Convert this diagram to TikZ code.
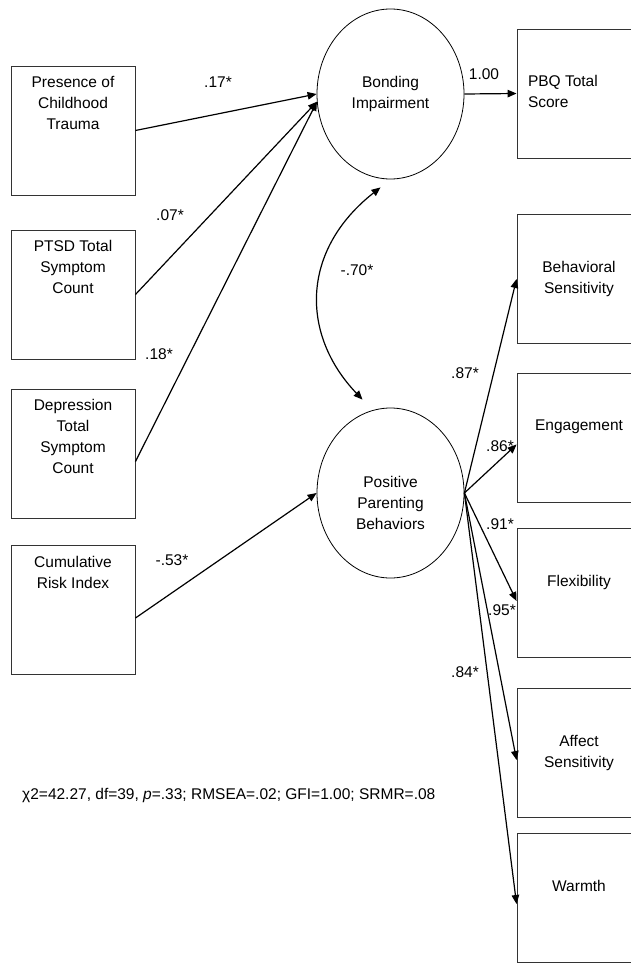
\documentclass[tikz,border=0pt]{standalone}
\usepackage{fontspec}
\setmainfont{Liberation Sans}
\usetikzlibrary{shapes.geometric}
\usetikzlibrary{arrows.meta}

\newcommand{\boxtext}[3]{\parbox[c][129pt][t]{124pt}{#1\rule{0pt}{#2}#3}}

\begin{document}
\begin{tikzpicture}[x=1pt,y=-1pt,font=\fontsize{15.5}{21}\selectfont,
  obs/.style={draw=black!80,line width=0.9pt,inner sep=0pt},
  latent/.style={ellipse,draw,line width=0.8pt,minimum width=147pt,minimum height=170pt,align=center},
  effect/.style={line width=1.2pt,-{Triangle[length=9pt,width=7.5pt]}},
  coef/.style={inner sep=1pt}]
\useasboundingbox (0,0) rectangle (631,963);
\node[obs] (trauma) at (73,130.5) {\boxtext{\centering}{21.7pt}{Presence of\\Childhood\\Trauma}};
\node[obs] (ptsd) at (73,294.5) {\boxtext{\centering}{21.7pt}{PTSD Total\\Symptom\\Count}};
\node[obs] (depr) at (73,453.5) {\boxtext{\centering}{21.7pt}{Depression\\Total\\Symptom\\Count}};
\node[obs] (risk) at (73,610) {\boxtext{\centering}{21.7pt}{Cumulative\\Risk Index}};
\node[latent] (bond) at (390.5,94) {Bonding\\Impairment};
\node[latent,label={[name=ppbtext,align=center,yshift=-10pt]center:Positive\\Parenting\\Behaviors}] (ppb) at (390.5,493) {};
\node[obs] (pbq) at (579,93.5) {\boxtext{\raggedright\leftskip=11pt}{57.5pt}{PBQ Total\\Score}};
\node[obs] (behav) at (579,279) {\boxtext{\centering}{57.5pt}{Behavioral\\Sensitivity}};
\node[obs] (engage) at (579,437.5) {\boxtext{\centering}{57.5pt}{Engagement}};
\node[obs] (flex) at (579,593) {\boxtext{\centering}{57.5pt}{Flexibility}};
\node[obs] (affect) at (579,753) {\boxtext{\centering}{57.5pt}{Affect\\Sensitivity}};
\node[obs] (warmth) at (579,898) {\boxtext{\centering}{57.5pt}{Warmth}};
\draw[effect] (trauma.east) -- (bond.west);
\draw[effect] (ptsd.east) -- (bond.186);
\draw[effect] ([yshift=-8pt]depr.east) -- (bond.186);
\draw[effect] ([yshift=-8pt]risk.east) -- (ppb.west);
\draw[effect] (bond.east) -- (pbq.west);
\draw[effect,{Triangle[length=9pt,width=7.5pt]}-{Triangle[length=9pt,width=7.5pt]}] ([xshift=-10pt,yshift=-8pt]bond.south) .. controls +(-80,63) and +(-62,-65) .. ([xshift=-28pt,yshift=8pt]ppb.north);
\draw[effect] (ppb.east) -- (behav.west);
\draw[effect] (ppb.east) -- ([yshift=-7pt]engage.west);
\draw[effect] (ppb.east) -- ([yshift=-8pt]flex.west);
\draw[effect] (ppb.east) -- ([yshift=-7pt]affect.west);
\draw[effect] (ppb.east) -- ([yshift=-6pt]warmth.west);
\node[coef] (ctrauma) at (218,82) {.17*};
\node[coef] (cpbq) at (484,74) {1.00};
\node[coef] (cptsd) at (170,215) {.07*};
\node[coef] (cdepr) at (159,354) {.18*};
\node[coef] (crisk) at (172,560) {-.53*};
\node[coef] (ccov) at (357,270) {-.70*};
\node[coef] (cbehav) at (465,373) {.87*};
\node[coef] (cengage) at (500,446) {.86*};
\node[coef] (cflex) at (500,524) {.91*};
\node[coef] (caffect) at (502,610) {.95*};
\node[coef] (cwarmth) at (465,672) {.84*};
\node[anchor=west,inner sep=0pt] (fit) at (22,795) {χ2=42.27, df=39, \textit{p}=.33; RMSEA=.02; GFI=1.00; SRMR=.08};
\end{tikzpicture}
\end{document}
